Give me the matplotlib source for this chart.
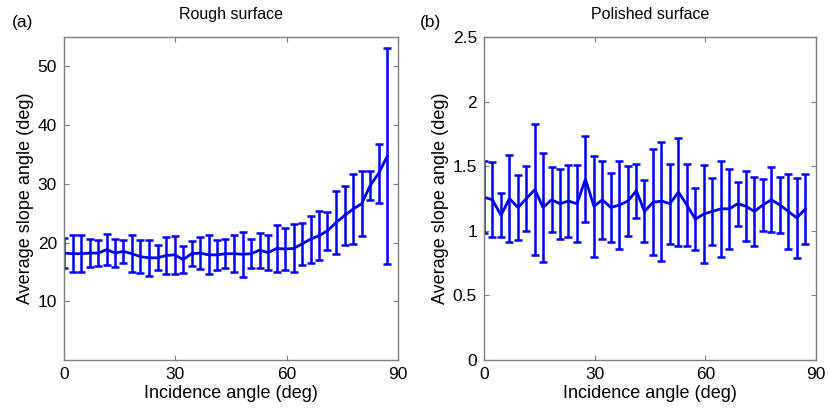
import numpy as np
import matplotlib
matplotlib.use("Agg")
import matplotlib.pyplot as plt

plt.rcParams['font.family'] = ['Liberation Sans', 'DejaVu Sans']

# incidence angles (deg), shared by both panels
angles = [0.0, 2.3, 4.6, 6.9, 9.2, 11.5, 13.8, 16.0, 18.3, 20.6, 22.9, 25.2, 27.5,
          29.8, 32.1, 34.4, 36.7, 39.0, 41.3, 43.5, 45.8, 48.1, 50.4, 52.7, 55.0,
          57.3, 59.6, 61.9, 64.2, 66.5, 68.8, 71.0, 73.3, 75.6, 77.9, 80.2, 82.5,
          84.8, 87.1]

# (a) rough surface
rough_mean = [18.2, 18.1, 18.1, 18.2, 18.2, 18.8, 18.2, 18.5, 18.1, 17.6, 17.4, 17.4,
              17.8, 17.9, 17.1, 18.1, 18.2, 17.9, 17.9, 18.1, 18.1, 18.0, 18.1, 18.7,
              18.3, 19.0, 18.9, 19.0, 19.8, 20.6, 21.2, 22.0, 23.4, 24.6, 25.7, 26.6,
              29.7, 31.8, 34.7]
rough_err = [2.6, 3.1, 3.2, 2.4, 2.2, 2.6, 2.4, 2.0, 3.2, 2.8, 3.1, 2.1, 3.1, 3.2,
             2.3, 2.1, 2.7, 3.3, 2.6, 2.5, 3.1, 3.8, 2.5, 3.0, 3.0, 4.0, 3.6, 4.1,
             3.6, 4.0, 4.1, 3.2, 5.3, 5.0, 6.0, 5.5, 2.5, 5.0, 18.4]

# (b) polished surface
polished_mean = [1.26, 1.24, 1.12, 1.25, 1.18, 1.25, 1.32, 1.18, 1.24, 1.21, 1.23,
                 1.21, 1.40, 1.19, 1.24, 1.18, 1.20, 1.23, 1.31, 1.15, 1.22, 1.23,
                 1.21, 1.30, 1.20, 1.09, 1.13, 1.15, 1.17, 1.17, 1.21, 1.19, 1.15,
                 1.20, 1.24, 1.20, 1.15, 1.10, 1.17]
polished_err = [0.28, 0.29, 0.17, 0.34, 0.25, 0.25, 0.51, 0.42, 0.25, 0.27, 0.28,
                0.30, 0.33, 0.39, 0.30, 0.27, 0.34, 0.27, 0.21, 0.24, 0.41, 0.46,
                0.31, 0.42, 0.32, 0.24, 0.38, 0.26, 0.37, 0.31, 0.17, 0.27, 0.27,
                0.20, 0.25, 0.22, 0.29, 0.31, 0.27]

W, H = 829, 412
fig = plt.figure(figsize=(W / 100, H / 100), dpi=100)
ax1 = fig.add_axes([64 / W, 1 - 360 / H, 334 / W, 323 / H])
ax2 = fig.add_axes([484 / W, 1 - 360 / H, 332 / W, 323 / H])

blue = '#0000ff'
spine_col = '#7f7f7f'


def style(ax):
    for s in ax.spines.values():
        s.set_color(spine_col)
        s.set_linewidth(1.0)
    ax.tick_params(direction='in', length=3.5, width=0.8, color=spine_col,
                   top=True, right=True, labelsize=12.5, pad=5)
    ax.set_xlim(0, 90)
    ax.set_xticks([0, 30, 60, 90])
    ax.set_xlabel('Incidence angle (deg)', fontsize=13, labelpad=2)
    ax.set_ylabel('Average slope angle (deg)', fontsize=13, labelpad=3)


ax1.errorbar(angles, rough_mean, yerr=rough_err, color=blue, lw=2.0,
             elinewidth=1.8, capsize=3.0, capthick=1.8)
style(ax1)
ax1.set_ylim(0, 55)
ax1.set_yticks([10, 20, 30, 40, 50])
ax1.set_title('Rough surface', fontsize=11.5, pad=13)

ax2.errorbar(angles, polished_mean, yerr=polished_err, color=blue, lw=2.0,
             elinewidth=1.8, capsize=3.0, capthick=1.8)
style(ax2)
ax2.set_ylim(0, 2.5)
ax2.set_yticks([0, 0.5, 1, 1.5, 2, 2.5])
ax2.set_yticklabels(['0', '0.5', '1', '1.5', '2', '2.5'])
ax2.set_title('Polished surface', fontsize=11.5, pad=13)

fig.text(12 / W, 1 - 22 / H, '(a)', fontsize=12.5, va='center', ha='left')
fig.text(420 / W, 1 - 22 / H, '(b)', fontsize=12.5, va='center', ha='left')

fig.savefig('out.png', dpi=100)
